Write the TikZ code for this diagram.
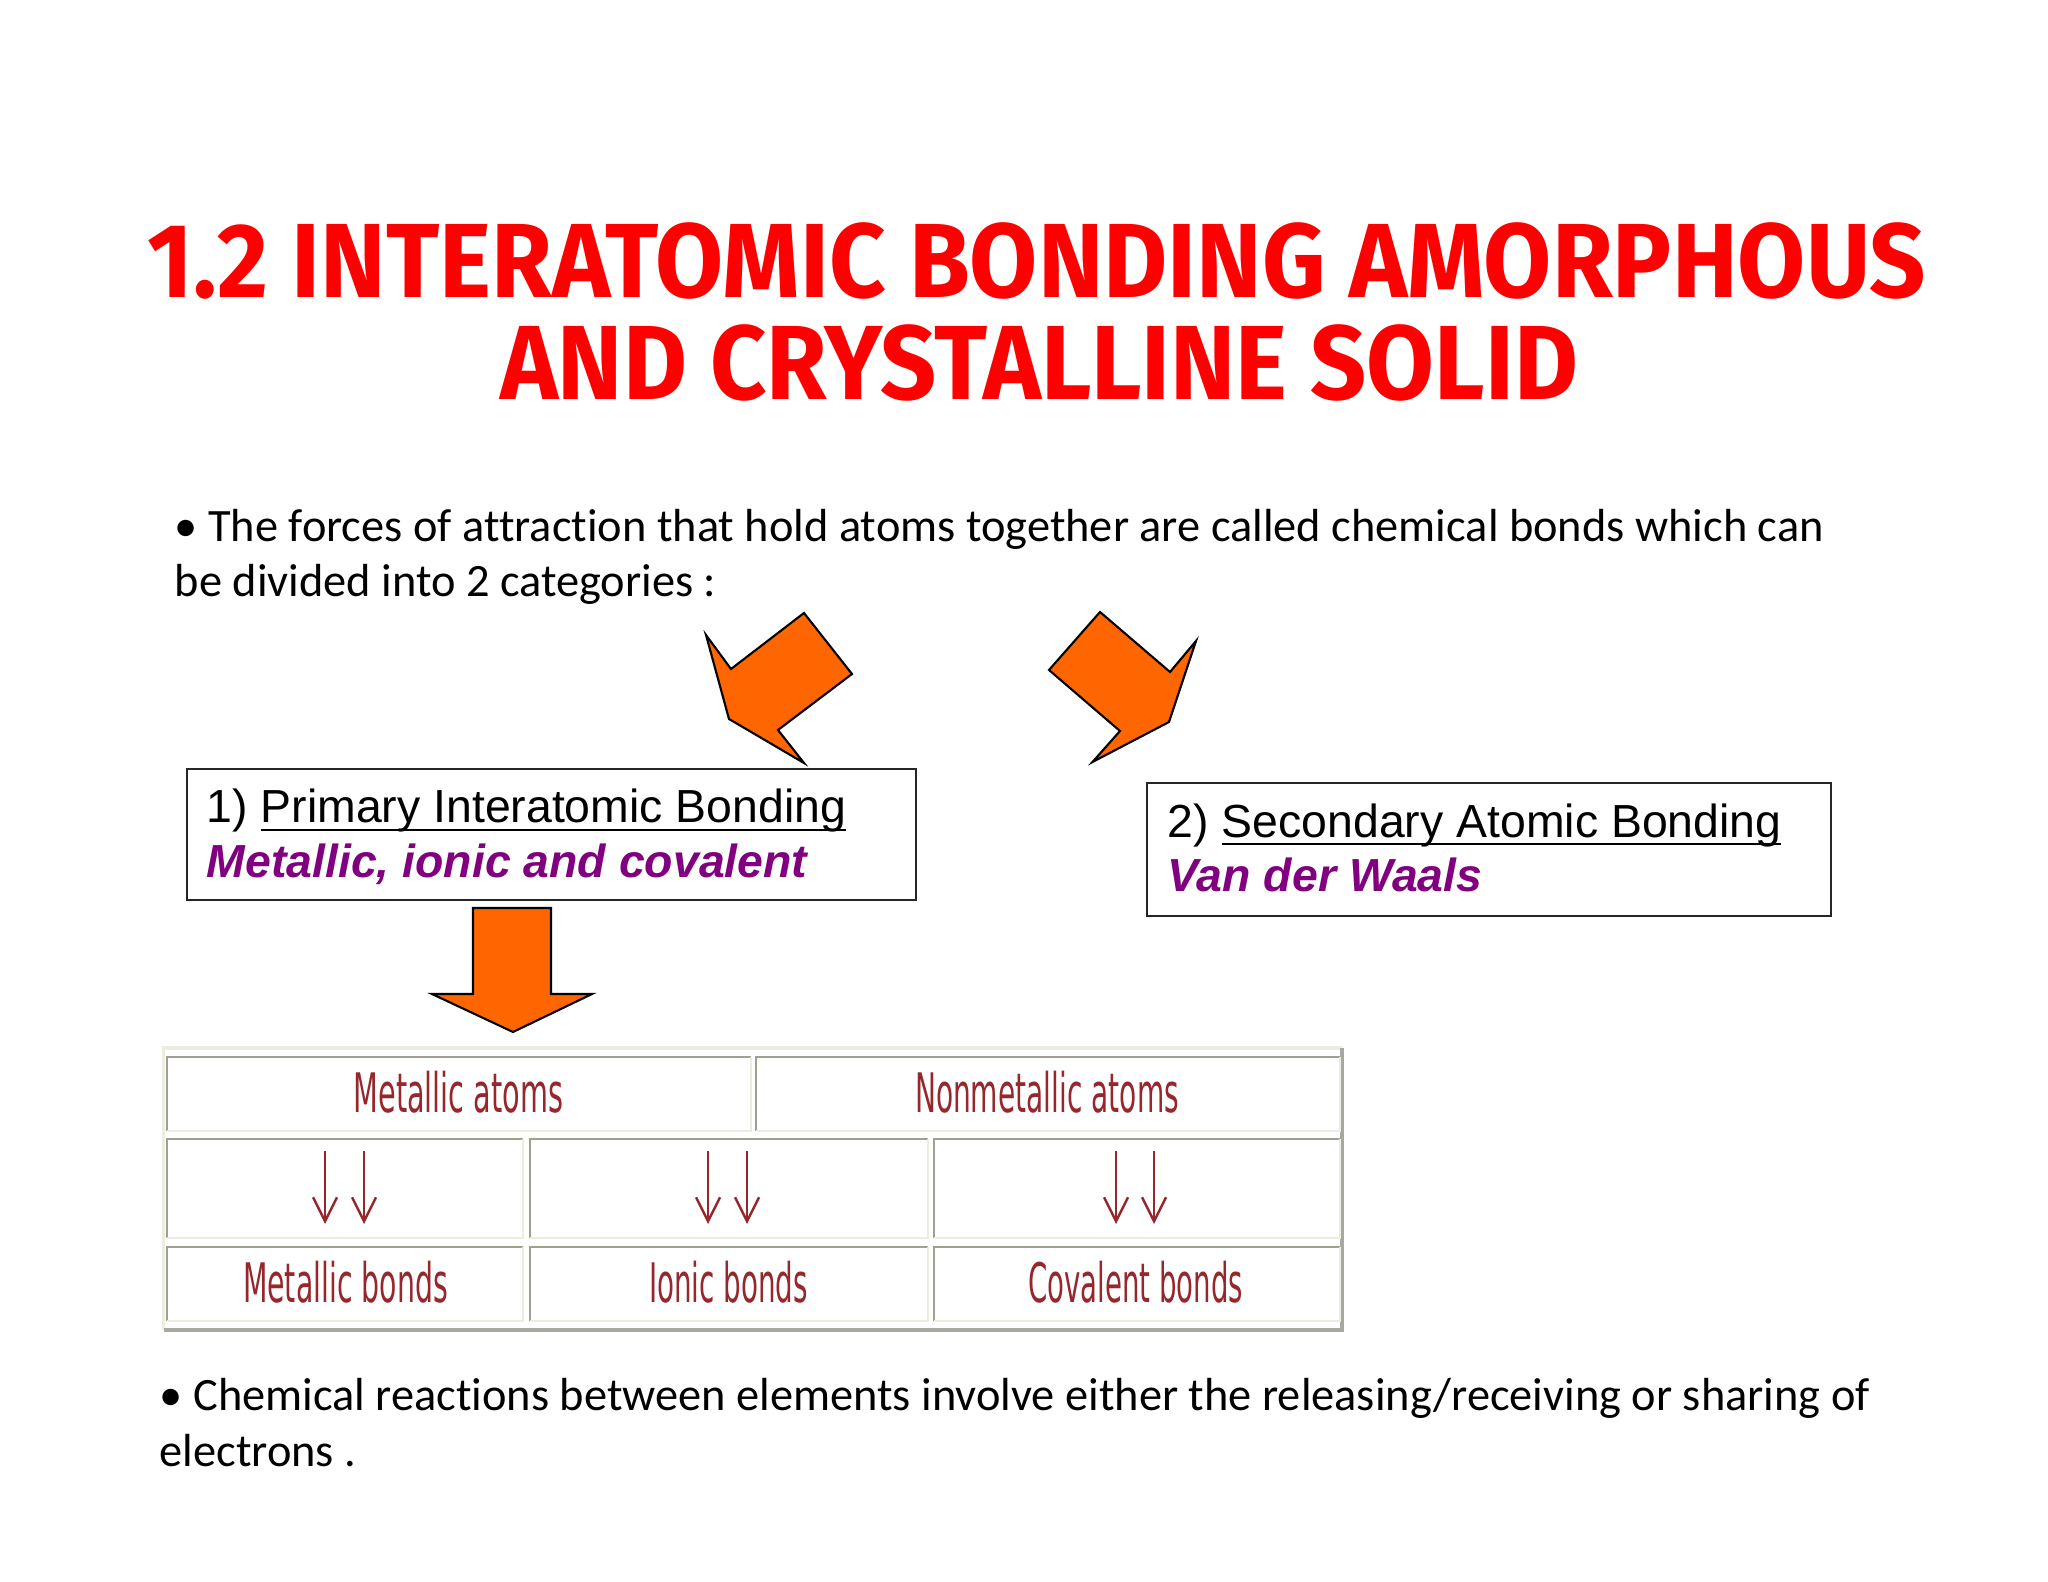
\documentclass[tikz,border=0pt]{standalone}
\usepackage{fontspec}
\usepackage{graphicx}
\setmainfont{Carlito}[Ligatures=NoCommon]
\newfontfamily\arialfont{Liberation Sans}
\newfontfamily\titlefont{Fira Sans}
\newfontfamily\tabfont{DejaVu Sans}
\usetikzlibrary{arrows.meta}

\definecolor{titlered}{RGB}{255,0,0}
\definecolor{blockorange}{RGB}{255,102,0}
\definecolor{bondpurple}{RGB}{128,0,128}
\definecolor{tabred}{RGB}{150,40,45}
\definecolor{celldark}{RGB}{160,160,145}
\definecolor{celllight}{RGB}{236,236,224}
\definecolor{framedark}{RGB}{168,168,162}

% thicker underline for the box headings
\newcommand{\bondul}[1]{\setbox0\hbox{#1}\rlap{\rule[-2.4pt]{\wd0}{0.8pt}}\box0}

\tikzset{
	titletext/.style = {inner sep=0, text=titlered, font=\titlefont\bfseries\fontsize{30}{36}\selectfont},
	bullettext/.style = {inner sep=0, anchor=base west, font=\fontsize{13.2}{16}\selectfont},
	catbox/.style = {draw=black!85, line width=0.6pt, rectangle, inner sep=0},
	boxtext/.style = {inner sep=0, anchor=base west, font=\arialfont\fontsize{13.2}{16}\selectfont},
	subtext/.style = {boxtext, text=bondpurple, font=\arialfont\bfseries\itshape\fontsize{13.2}{16}\selectfont},
	blockarrow/.style = {fill=blockorange, draw=black, line width=0.6pt, line join=miter},
	tabtext/.style = {inner sep=0, text=tabred, font=\tabfont\fontsize{15.5}{18}\selectfont},
	tabarrow/.style = {draw=tabred, line width=0.7pt, -{Straight Barb[length=0.24cm, width=0.24cm]}}
}

\begin{document}
\begin{tikzpicture}
	\useasboundingbox (0,0) rectangle (20.48,-15.82);

	% title
	\node (title1) [titletext, anchor=base] at (10.37,-2.98) {\resizebox{17.78cm}{\height}{1.2 INTERATOMIC BONDING AMORPHOUS}};
	\node (title2) [titletext, anchor=base] at (10.39,-4.00) {\resizebox{10.78cm}{\height}{AND CRYSTALLINE SOLID}};

	% first bullet
	\node (intro1) [bullettext] at (1.74,-5.42) {• The forces of attraction that hold atoms together are called chemical bonds which can};
	\node (intro2) [bullettext] at (1.74,-5.97) {be divided into 2 categories :};

	% the two categories
	\node (primbox) [catbox, minimum width=7.285cm, minimum height=1.31cm] at (5.513,-8.345) {};
	\node (primhead) [boxtext] at (2.06,-8.23) {1) \bondul{Primary Interatomic Bonding}};
	\node (primsub) [subtext] at (2.06,-8.77) {Metallic, ionic and covalent};

	\node (secbox) [catbox, minimum width=6.84cm, minimum height=1.33cm] at (14.89,-8.495) {};
	\node (sechead) [boxtext] at (11.67,-8.37) {2) \bondul{Secondary Atomic Bonding}};
	\node (secsub) [subtext] at (11.67,-8.92) {Van der Waals};

	% block arrows
	\draw[blockarrow] (8.04,-7.63) -- (7.29,-7.19) -- (7.06,-6.35) -- (7.31,-6.69) -- (8.04,-6.13) -- (8.52,-6.74) -- (7.78,-7.30) -- cycle;
	\draw[blockarrow] (11.00,-6.12) -- (10.49,-6.70) -- (11.20,-7.31) -- (10.925,-7.62) -- (11.69,-7.22) -- (11.96,-6.41) -- (11.70,-6.72) -- cycle;
	\draw[blockarrow] (4.73,-9.08) -- (5.51,-9.08) -- (5.51,-9.94) -- (5.92,-9.94) -- (5.13,-10.32) -- (4.32,-9.94) -- (4.73,-9.94) -- cycle;

	% table frame
	\draw[celllight, line width=1pt] (1.635,-13.30) |- (13.42,-10.48);
	\draw[framedark, line width=1pt] (1.635,-13.30) -| (13.42,-10.48);
	\foreach \xa/\ya/\xb/\yb in {1.67/10.57/7.51/11.31, 7.56/10.57/13.40/11.31,
			1.67/11.39/5.23/12.38, 5.30/11.39/9.28/12.38, 9.34/11.39/13.40/12.38,
			1.67/12.47/5.23/13.21, 5.30/12.47/9.28/13.21, 9.34/12.47/13.40/13.21} {
		\draw[celldark, line width=0.8pt] (\xa,-\yb) |- (\xb,-\ya);
		\draw[celllight, line width=0.8pt] (\xa,-\yb) -| (\xb,-\ya);
	}

	% table text
	\node (metatoms) [tabtext] at (4.585,-10.92) {\resizebox{2.10cm}{\height}{Metallic atoms}};
	\node (nonatoms) [tabtext] at (10.47,-10.92) {\resizebox{2.64cm}{\height}{Nonmetallic atoms}};
	\node (metbonds) [tabtext] at (3.455,-12.82) {\resizebox{2.05cm}{\height}{Metallic bonds}};
	\node (ionbonds) [tabtext] at (7.285,-12.82) {\resizebox{1.59cm}{\height}{Ionic bonds}};
	\node (covbonds) [tabtext] at (11.355,-12.82) {\resizebox{2.15cm}{\height}{Covalent bonds}};
	\foreach \x in {3.25, 3.64, 7.08, 7.47, 11.16, 11.54}
		\draw[tabarrow] (\x,-11.51) -- (\x,-12.24);

	% second bullet
	\node (outro1) [bullettext] at (1.59,-14.10) {• Chemical reactions between elements involve either the releasing/receiving or sharing of};
	\node (outro2) [bullettext] at (1.59,-14.66) {electrons .};
\end{tikzpicture}
\end{document}
